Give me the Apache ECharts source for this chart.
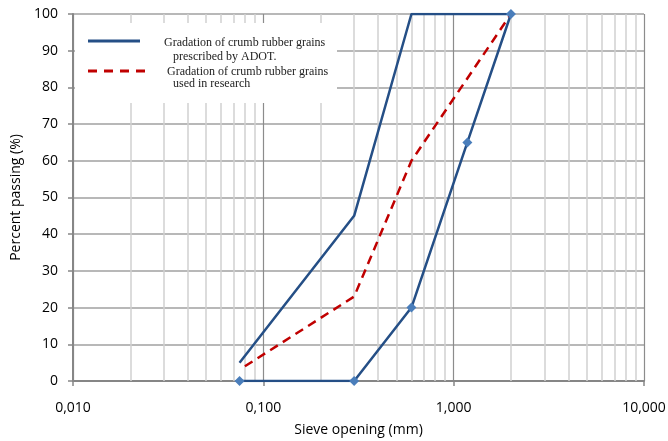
<!DOCTYPE html>
<html><head><meta charset="utf-8">
<script src="https://cdn.jsdelivr.net/npm/echarts@6/dist/echarts.min.js"></script>
<style>html,body{margin:0;padding:0;background:#fff}#c{width:668px;height:441px}</style>
</head><body><div id="c"></div>
<script>
// Data
const adotUpperX = [0.075, 0.3, 0.6, 2.0];
const adotUpperY = [5, 45, 100, 100];
const adotLowerX = [0.075, 0.3, 0.6, 1.18, 2.0];
const adotLowerY = [0, 0, 20, 65, 100];
const researchX = [0.08, 0.3, 0.6, 2.0];
const researchY = [4, 23, 60, 100];
const minorGridX = [0.02,0.03,0.04,0.05,0.06,0.07,0.08,0.09,0.2,0.3,0.4,0.5,0.6,0.7,0.8,0.9,2,3,4,5,6,7,8,9];
const legendText1 = ['Gradation of crumb rubber grains', 'prescribed by ADOT.'];
const legendText2 = ['Gradation of crumb rubber grains', 'used in research'];

const zip = (xs, ys) => xs.map((x, i) => [x, ys[i]]);
const chart = echarts.init(document.getElementById('c'), null, {renderer: 'canvas'});
const lbl = {fontFamily: 'Open Sans', fontSize: 14, color: '#000'};
chart.setOption({
  animation: false,
  grid: {left: 73, right: 24, top: 14, bottom: 60, containLabel: false, outerBoundsMode: 'none'},
  xAxis: {
    type: 'log', logBase: 10, min: 0.01, max: 10,
    name: 'Sieve opening (mm)', nameLocation: 'middle', nameGap: 42,
    nameTextStyle: {fontFamily: 'Open Sans', fontSize: 14, color: '#000'},
    axisLine: {onZero: false, lineStyle: {color: '#868686', width: 2}},
    axisTick: {show: true, length: 5, lineStyle: {color: '#868686', width: 1.5}},
    axisLabel: Object.assign({margin: 20, formatter: v => Number(v).toFixed(3).replace('.', ',')}, lbl),
    splitLine: {show: true, lineStyle: {color: '#8c8c8c', width: 1.2}},
    minorTick: {show: false}
  },
  yAxis: {
    type: 'value', min: 0, max: 100, interval: 10,
    name: 'Percent passing (%)', nameLocation: 'middle', nameGap: 44,
    nameTextStyle: {fontFamily: 'Open Sans', fontSize: 14, color: '#000'},
    axisLine: {show: true, lineStyle: {color: '#868686', width: 2}},
    axisTick: {show: true, length: 5, lineStyle: {color: '#868686', width: 1.5}},
    axisLabel: Object.assign({margin: 15}, lbl),
    splitLine: {show: true, lineStyle: {color: '#a0a0a0', width: 1.5}}
  },
  graphic: [
    {type: 'rect', z: 10, shape: {x: 75, y: 23, width: 262, height: 80}, style: {fill: '#fff'}},
    {type: 'line', z: 11, shape: {x1: 88, y1: 41, x2: 140, y2: 41}, style: {stroke: '#254f86', lineWidth: 3}},
    {type: 'line', z: 11, shape: {x1: 88, y1: 71, x2: 148, y2: 71}, style: {stroke: '#c00000', lineWidth: 3, lineDash: [9, 7]}},
    {type: 'text', z: 11, style: {text: legendText1[0], x: 164, y: 43, verticalAlign: 'middle', font: '12px "Liberation Serif"', fill: '#222'}},
    {type: 'text', z: 11, style: {text: legendText1[1], x: 173, y: 57, verticalAlign: 'middle', font: '12px "Liberation Serif"', fill: '#222'}},
    {type: 'text', z: 11, style: {text: legendText2[0], x: 167, y: 72, verticalAlign: 'middle', font: '12px "Liberation Serif"', fill: '#222'}},
    {type: 'text', z: 11, style: {text: legendText2[1], x: 173, y: 84, verticalAlign: 'middle', font: '12px "Liberation Serif"', fill: '#222'}}
  ],
  series: [
    {type: 'line', data: [], silent: true, z: 1,
     markLine: {silent: true, symbol: 'none', label: {show: false}, animation: false,
       lineStyle: {color: '#d0d0d0', width: 1.5, type: 'solid'},
       data: minorGridX.map(x => ({xAxis: x}))}},
    {type: 'line', data: zip(adotUpperX, adotUpperY), showSymbol: false, symbol: 'none',
     lineStyle: {color: '#254f86', width: 2.5}, z: 5},
    {type: 'line', data: zip(researchX, researchY), showSymbol: false, symbol: 'none',
     lineStyle: {color: '#c00000', width: 2.5, type: [9, 6]}, z: 6},
    {type: 'line', data: zip(adotLowerX, adotLowerY), symbol: 'diamond', symbolSize: 10,
     itemStyle: {color: '#4a7ebb'}, lineStyle: {color: '#254f86', width: 2.5}, z: 7}
  ]
});
</script></body></html>
